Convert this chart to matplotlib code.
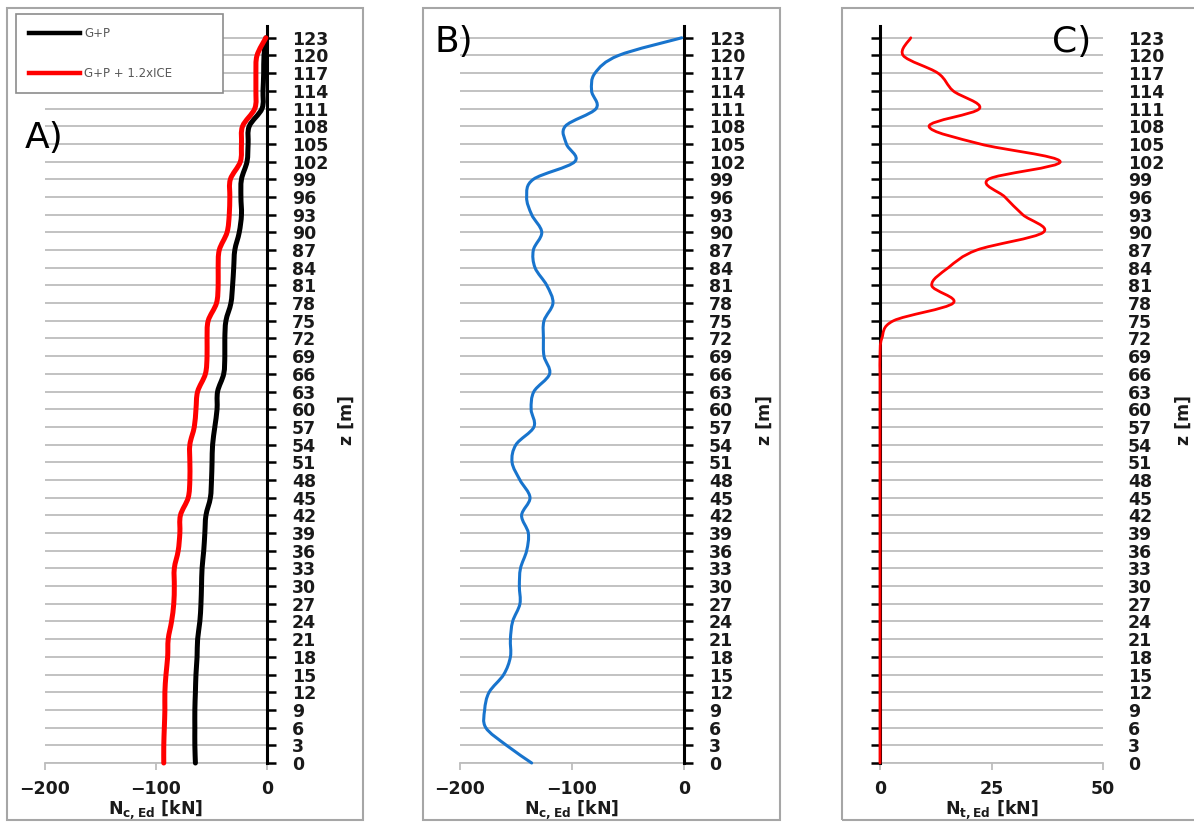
import matplotlib
matplotlib.use("Agg")
import matplotlib.pyplot as plt
import numpy as np
from matplotlib.patches import PathPatch, Rectangle
from matplotlib.path import Path

# heights along the mast, every 3 m
z_levels = [0, 3, 6, 9, 12, 15, 18, 21, 24, 27, 30, 33, 36, 39, 42, 45, 48, 51, 54, 57, 60,
            63, 66, 69, 72, 75, 78, 81, 84, 87, 90, 93, 96, 99, 102, 105, 108, 111, 114, 117, 120, 123]

# panel A: compression force [kN]
gp_values = [-64.5, -65, -65, -65, -64.5, -64, -63, -62.5, -60.5, -59.5, -59, -58.5, -57, -56,
             -55, -51, -50, -49.5, -49, -47, -45, -44.5, -39, -38, -38, -37, -32.5, -31, -30,
             -29, -25, -23, -23.5, -23, -18, -17, -16, -4.5, -3.6, -3, -2.7, -1]
gp_ice_values = [-93, -93, -92.5, -92, -92, -91, -89.5, -89, -86, -84, -83.5, -83.5, -80, -78.5,
                 -78, -71, -69.5, -69.5, -69.5, -65.5, -64, -62.5, -55.5, -54, -54, -53, -45.5,
                 -44, -44, -43, -36, -34, -33.5, -33, -24, -23, -22, -11, -10, -10, -9, -1]

# panel B: compression force [kN]
nc_values = [-136, -158.5, -177, -178, -174, -161, -155, -155, -153, -146.5, -147, -146, -140.5,
             -139, -145, -137.5, -146.5, -153.5, -150, -134, -136.5, -134, -120, -125, -125.5,
             -125, -117, -122.5, -133, -134.5, -127, -136, -140.5, -134.5, -97.5, -105, -106,
             -78.5, -82.5, -79.5, -58.5, -2]

# panel C: tension force [kN]
nt_values = [0, 0, 0, 0, 0, 0, 0, 0, 0, 0, 0, 0, 0, 0, 0, 0, 0, 0, 0, 0, 0, 0, 0, 0,
             0.4, 3, 16.4, 11.6, 15.3, 21.7, 36.6, 32, 28, 24.3, 40.4, 22.4, 11, 22.3, 16.4,
             13, 5.2, 6.9]

legend_labels = ["G+P", "G+P + 1.2xICE"]
panel_letters = ["A)", "B)", "C)"]

W, H = 1194, 823
GRID = "#bdbdbd"
FRAME = "#a6a6a6"
TEXT = "#1a1a1a"

plt.rcParams["font.family"] = "DejaVu Sans"
plt.rcParams["font.weight"] = "bold"
plt.rcParams["axes.labelweight"] = "bold"
plt.rcParams["mathtext.fontset"] = "dejavusans"


def fig_box(left, top, right, bottom):
    return [left / W, 1 - bottom / H, (right - left) / W, (bottom - top) / H]


def smooth_path(xs, zs):
    # Excel-like smoothed line: cubic bezier through every point
    pts = np.column_stack([xs, zs]).astype(float)
    padded = np.vstack([pts[:1], pts, pts[-1:]])
    verts = [pts[0]]
    for i in range(len(pts) - 1):
        p0, p1, p2, p3 = padded[i], padded[i + 1], padded[i + 2], padded[i + 3]
        verts += [p1 + (p2 - p0) / 6, p2 - (p3 - p1) / 6, p2]
    codes = [Path.MOVETO] + [Path.CURVE4] * (len(verts) - 1)
    return Path(verts, codes)


def add_curve(ax, xs, color, lw):
    patch = PathPatch(smooth_path(xs, z_levels), fill=False, edgecolor=color, lw=lw,
                      capstyle="round", joinstyle="round", zorder=3, clip_on=False)
    ax.add_patch(patch)


def style_panel(ax, xlim, xticks, axis_side, xlabel):
    ax.set_xlim(*xlim)
    ax.set_ylim(0, 125)
    ax.set_xticks(xticks)
    ax.set_yticks(z_levels)
    for side in ["top", "left", "right"]:
        ax.spines[side].set_visible(False)
    ax.spines["bottom"].set_color(GRID)
    ax.spines["bottom"].set_linewidth(1.3)
    ax.spines[axis_side].set_visible(True)
    ax.spines[axis_side].set_color("black")
    ax.spines[axis_side].set_linewidth(2.2)
    ax.spines[axis_side].set_zorder(2.8)
    ax.yaxis.grid(True, color=GRID, lw=1.3)
    ax.set_axisbelow(True)

    ax.tick_params(axis="x", direction="out", length=5, width=1.3, color=GRID,
                   pad=7, labelsize=12.5, labelcolor=TEXT)
    if axis_side == "right":
        ax.yaxis.tick_right()
        ax.tick_params(axis="y", direction="out", length=6.5, width=1.8, color="black",
                       pad=11.5, labelsize=12.5, labelcolor=TEXT)
    else:
        ax.tick_params(axis="y", left=True, right=False, labelleft=False, labelright=True,
                       direction="out", length=6.5, width=1.8, color="black",
                       pad=11.5, labelsize=12.5, labelcolor=TEXT)

    ax.set_xlabel(xlabel, fontsize=12.5, labelpad=0, color=TEXT)
    ax.yaxis.set_label_position("right")
    ax.set_ylabel("z [m]", fontsize=12.5, color=TEXT)
    ax.yaxis.set_label_coords(1.36, 0.465)
    ax.yaxis.label.set_verticalalignment("center")


fig = plt.figure(figsize=(W / 100, H / 100), dpi=100)

for left, right in [(7, 363), (423, 780), (842, 1200)]:
    fig.add_artist(Rectangle((left / W, 1 - 820 / H), (right - left) / W, 812 / H,
                             transform=fig.transFigure, fill=False, ec=FRAME, lw=1.5))

ax_a = fig.add_axes(fig_box(45, 26, 267, 763))
ax_b = fig.add_axes(fig_box(460, 26, 684, 763))
ax_c = fig.add_axes(fig_box(880, 26, 1103, 763))

style_panel(ax_a, (-200, 0), [-200, -100, 0], "right", r"N$_\mathbf{c,Ed}$ [kN]")
style_panel(ax_b, (-200, 0), [-200, -100, 0], "right", r"N$_\mathbf{c,Ed}$ [kN]")
style_panel(ax_c, (0, 50), [0, 25, 50], "left", r"N$_\mathbf{t,Ed}$ [kN]")

add_curve(ax_a, gp_values, "black", 3.6)
add_curve(ax_a, gp_ice_values, "#ff0000", 3.6)
add_curve(ax_b, nc_values, "#1874cd", 2.2)
add_curve(ax_c, nt_values, "#ff0000", 2.0)

ax_a.plot([], [], color="black", lw=3.2, label=legend_labels[0])
ax_a.plot([], [], color="#ff0000", lw=3.2, label=legend_labels[1])
leg = ax_a.legend(loc="upper left", bbox_to_anchor=(16 / W, 1 - 95 / H, 207 / W, 81 / H),
                  bbox_transform=fig.transFigure, mode="expand", borderaxespad=0,
                  fancybox=False, framealpha=1, edgecolor="#8c8c8c",
                  prop={"weight": "normal", "size": 8.5}, labelcolor="#595959",
                  handlelength=4.3, handletextpad=0.4, labelspacing=2.3, borderpad=1.1)
leg.get_frame().set_linewidth(1.2)
leg.set_zorder(5)

letter_pos = [(25, 148), (435, 52), (1052, 52)]
for letter, (px, py) in zip(panel_letters, letter_pos):
    fig.text(px / W, 1 - py / H, letter, fontsize=26, fontweight="normal", color="black",
             va="baseline")

fig.savefig("out.png", dpi=100)
